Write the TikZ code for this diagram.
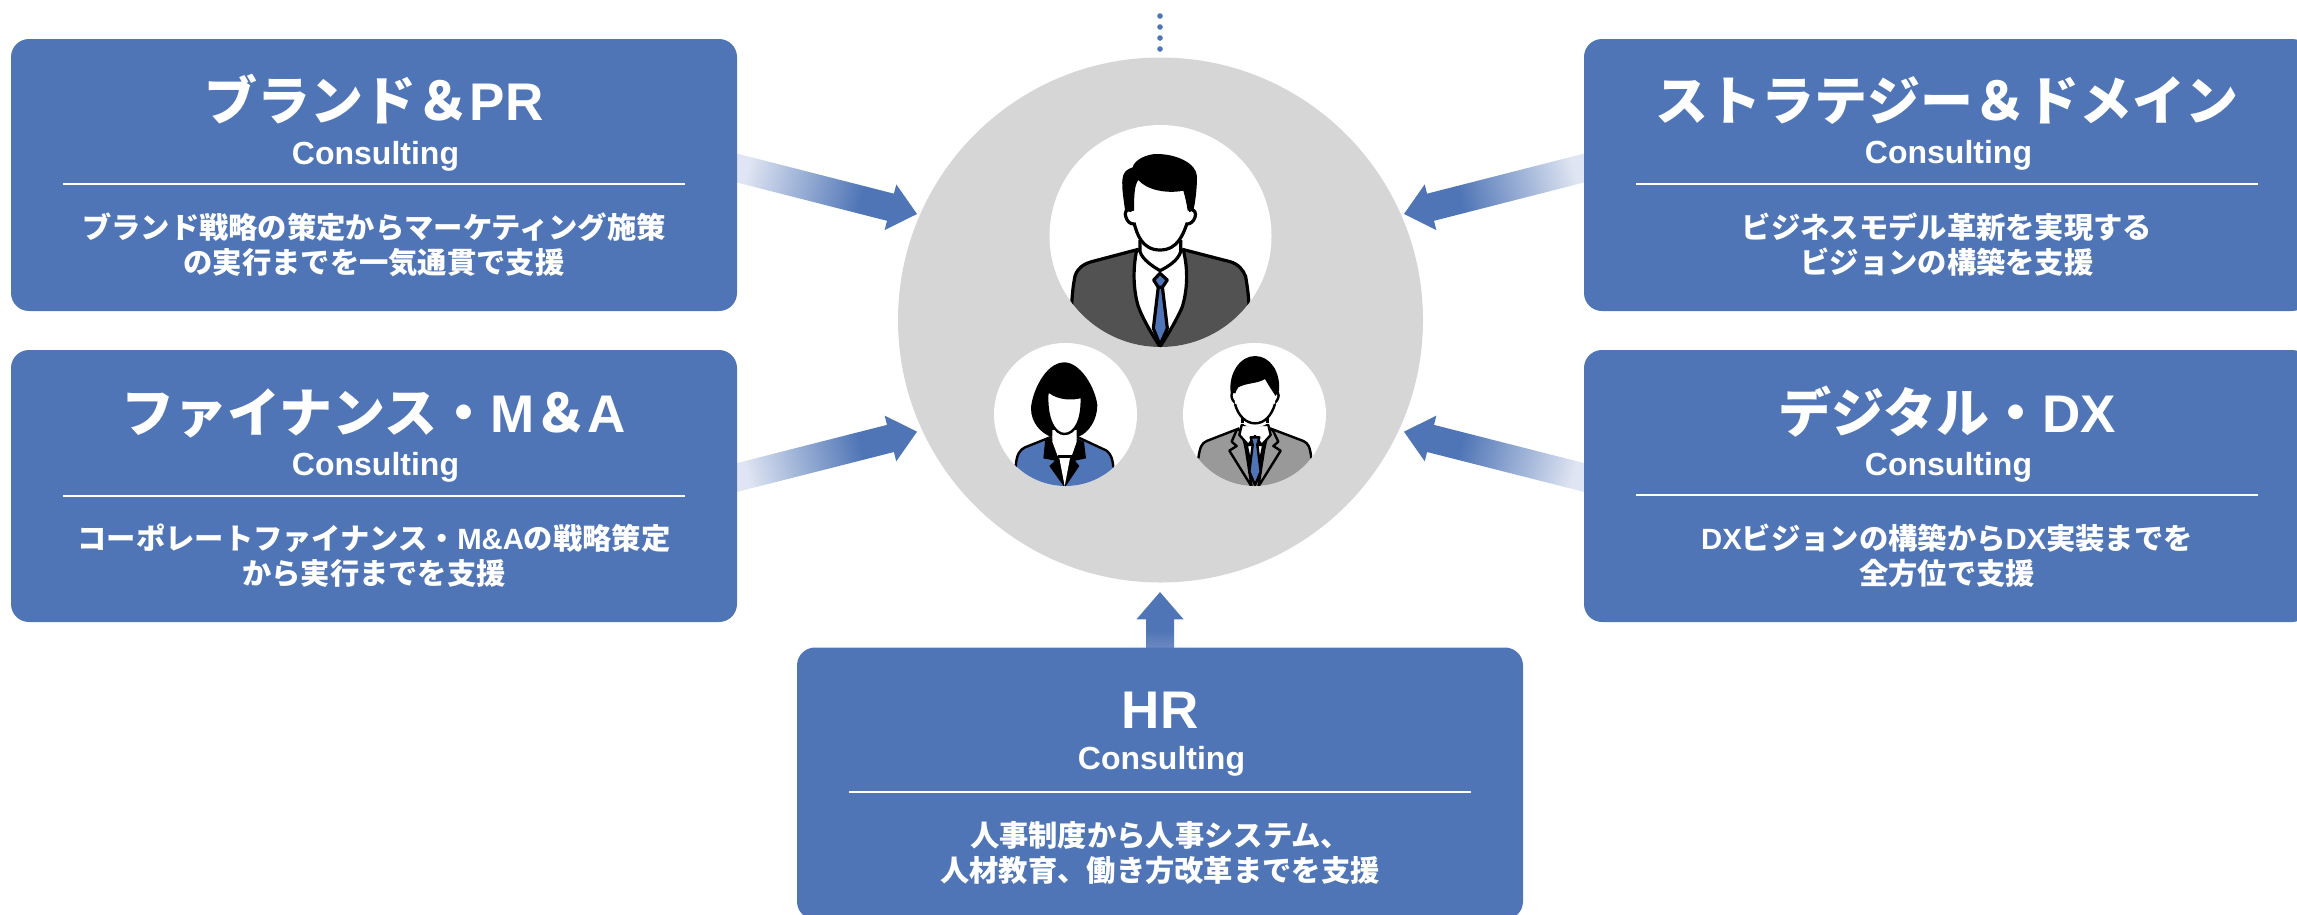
\documentclass[tikz,border=0pt]{standalone}
\usepackage{fontspec}
\usetikzlibrary{calc}
\setmainfont{Liberation Sans}
\newfontfamily\cjk{Noto Sans CJK JP}
\definecolor{boxblue}{HTML}{4F75B6}
\definecolor{pale}{HTML}{DFE5F2}
\definecolor{lowblue}{HTML}{6F8BC3}
\definecolor{hubgrey}{HTML}{D6D6D6}
\definecolor{suitdark}{HTML}{525252}
\definecolor{suitgrey}{HTML}{999999}
\pgfdeclarehorizontalshading{arrowfade}{100bp}{color(0bp)=(pale); color(27bp)=(pale); color(62bp)=(boxblue); color(100bp)=(boxblue)}
\pgfdeclarehorizontalshading{arrowshort}{100bp}{color(0bp)=(lowblue); color(25bp)=(lowblue); color(42bp)=(boxblue); color(100bp)=(boxblue)}
\newcommand{\la}[1]{{\rmfamily\bfseries #1}}
\newcommand{\fs}[1]{\fontsize{#1}{#1}\selectfont}
\tikzset{
  cbox/.style={fill=boxblue,rounded corners=18pt,minimum width=726pt,minimum height=272pt,inner sep=0pt,draw=none},
  ctext/.style={text=white,inner sep=0pt,anchor=base},
  ctitle/.style={ctext,font=\cjk\bfseries\fs{53}},
  csub/.style={ctext,xshift=1.5pt,font=\rmfamily\bfseries\fs{32}},
  cbody/.style={ctext,font=\cjk\bfseries\fs{29.3}},
  rule/.style={draw=white,line width=2pt},
  face/.style={fill=white,draw=black,line join=round},
  dot/.style={circle,fill=boxblue,inner sep=0pt,minimum size=5.6pt},
}
% id, cx, cy, title, title base, sub base, rule y, line1, base1
\newcommand{\consult}[9]{%
  \node[cbox] (#1) at (#2,#3) {};
  \node[ctitle] (#1t) at (#2,#5) {#4};
  \node[csub] (#1s) at (#2,#6) {Consulting};
  \draw[rule] ($(#2,#7)+(-311,0)$) -- ($(#2,#7)+(311,0)$);
  \node[cbody] (#1a) at (#2,#9) {#8};
}
\newcommand{\blockarrow}[4]{% from, to, shading, angle
  \coordinate (hb) at ($(#2)!27.4pt!(#1)$);
  \shade[shading=#3,shading angle=#4]
    ($(#1)!14pt!90:(#2)$) -- ($(hb)!14pt!-90:(#1)$) -- ($(hb)!23.6pt!-90:(#1)$) -- (#2)
    -- ($(hb)!23.6pt!90:(#1)$) -- ($(hb)!14pt!90:(#1)$) -- ($(#1)!14pt!-90:(#2)$) -- cycle;
}
\begin{document}
\begin{tikzpicture}[x=1pt,y=-1pt]
\path[use as bounding box] (0,0) rectangle (2297,914);
\clip (0,0) rectangle (2297,914);

% hub and portrait discs
\node[circle,fill=hubgrey,inner sep=0pt,minimum size=525pt] (hub) at (1160.5,320) {};
\node[circle,fill=white,inner sep=0pt,minimum size=222pt] (p1) at (1160.5,236) {};
\node[circle,fill=white,inner sep=0pt,minimum size=143pt] (p2) at (1065.5,414.5) {};
\node[circle,fill=white,inner sep=0pt,minimum size=143pt] (p3) at (1254.5,414.5) {};
\foreach \i/\yy in {1/16,2/27,3/38,4/49}{\node[dot] (d\i) at (1160,\yy) {};}

% arrows (under the boxes)
\coordinate (s1) at (729,166); \coordinate (e1) at (917,214);
\coordinate (s2) at (729,479.5); \coordinate (e2) at (917,431.7);
\coordinate (s3) at (1592,166); \coordinate (e3) at (1404,214);
\coordinate (s4) at (1592,479.5); \coordinate (e4) at (1404,431.7);
\coordinate (s5) at (1160,650); \coordinate (e5) at (1160,592);
\blockarrow{s1}{e1}{arrowfade}{-14.3}
\blockarrow{s2}{e2}{arrowfade}{14.3}
\blockarrow{s3}{e3}{arrowfade}{194.3}
\blockarrow{s4}{e4}{arrowfade}{165.7}
\blockarrow{s5}{e5}{arrowshort}{90}

% boxes
\consult{b1}{374}{175}{ブランド＆\la{PR}}{120}{164.5}{183.7}{ブランド戦略の策定からマーケティング施策}{238.5}
\node[cbody] (b1b) at (374,273.5) {の実行までを一気通貫で支援};
\consult{b2}{374}{486}{ファイナンス・\la{M}＆\la{A}}{432}{475.5}{495.7}{コーポレートファイナンス・\la{M\&A}の戦略策定}{549.5}
\node[cbody] (b2b) at (374,584.5) {から実行までを支援};
\consult{b3}{1947}{175}{ストラテジー＆ドメイン}{120}{163.5}{184}{ビジネスモデル革新を実現する}{238.5}
\node[cbody] (b3b) at (1947,273.5) {ビジョンの構築を支援};
\consult{b4}{1947}{486}{デジタル・\la{DX}}{432}{475.5}{495}{\la{DX}ビジョンの構築から\la{DX}実装までを}{549.5}
\node[cbody] (b4b) at (1947,584.5) {全方位で支援};
\consult{b5}{1160}{783.5}{\la{HR}}{728}{769.5}{791.7}{人事制度から人事システム、}{846.5}
\node[cbody] (b5b) at (1160,881.5) {人材教育、働き方改革までを支援};

% big man
\begin{scope}
\clip (1160.5,236) circle [radius=111];
\begin{scope}[x=0.33333pt,y=-0.33333pt,shift={(950pt,0pt)},line width=3.2pt]
\fill[suitdark] (365,915) .. controls (368,860) and (372,845) .. (375,828) .. controls (382,805) and (400,792) .. (425,785) -- (565,748) -- (697,748) -- (840,785) .. controls (865,792) and (880,810) .. (887,830) .. controls (892,860) and (895,880) .. (897,915) -- (897,1100) -- (365,1100) -- cycle;
\draw (365,915) .. controls (368,860) and (372,845) .. (375,828) .. controls (382,805) and (400,792) .. (425,785) -- (565,748);
\draw (697,748) -- (840,785) .. controls (865,792) and (880,810) .. (887,830) .. controls (892,860) and (895,880) .. (897,915);
\draw[fill=white,line join=round] (560,750) .. controls (548,810) and (550,870) .. (565,920) .. controls (580,960) and (610,1010) .. (630,1040) .. controls (650,1010) and (680,960) .. (697,920) .. controls (712,870) and (715,810) .. (700,750) -- cycle;
\draw[fill=boxblue,line join=round] (625,860) -- (610,985) -- (630,1035) -- (652,985) -- (637,860) -- cycle;
\draw[fill=boxblue,line join=round] (630,820) -- (652,840) -- (637,862) -- (625,862) -- (611,840) -- cycle;
\draw[fill=white] (570,720) -- (570,755) .. controls (578,780) and (610,800) .. (630,812) .. controls (655,800) and (685,780) .. (692,755) -- (692,720);
% ears, then the face over them
\draw[face] (545,632) .. controls (528,622) and (522,640) .. (528,652) .. controls (532,665) and (540,672) .. (552,672);
\draw[face] (716,632) .. controls (733,622) and (740,640) .. (735,652) .. controls (730,665) and (722,672) .. (710,672);
\fill[white] (552,570) -- (552,670) .. controls (560,700) and (575,750) .. (630,750) .. controls (685,750) and (700,700) .. (712,670) -- (708,570) -- cycle;
\draw (552,668) .. controls (560,700) and (575,750) .. (630,750) .. controls (685,750) and (700,700) .. (712,668);
\fill[black] (525,630) .. controls (520,590) and (512,550) .. (520,525) .. controls (525,510) and (540,505) .. (548,502) .. controls (552,480) and (590,462) .. (620,462) .. controls (680,462) and (740,490) .. (741,530) .. controls (741,570) and (735,610) .. (730,632) -- (713,632) .. controls (710,610) and (705,590) .. (700,572) .. controls (650,582) and (590,570) .. (565,540) .. controls (553,555) and (552,590) .. (552,632) -- (540,635) -- cycle;
\end{scope}
\end{scope}

% woman
\begin{scope}
\clip (1065.5,414.5) circle [radius=71.5];
\begin{scope}[x=0.33333pt,y=-0.33333pt,shift={(960pt,-330pt)},line width=2.4pt]
\fill[black] (313,97) .. controls (255,97) and (215,190) .. (213,235) .. controls (213,280) and (245,310) .. (272,320) -- (355,320) .. controls (385,310) and (412,270) .. (412,225) .. controls (405,170) and (360,97) .. (313,97) -- cycle;
\fill[boxblue] (167,410) .. controls (170,370) and (180,360) .. (195,352) -- (275,320) -- (350,320) -- (440,362) .. controls (455,375) and (458,390) .. (460,412) -- (460,500) -- (167,500) -- cycle;
\draw (167,410) .. controls (170,370) and (180,360) .. (195,352) -- (275,320);
\draw (350,320) -- (440,362) .. controls (455,375) and (458,390) .. (460,412);
\fill[black] (256,325) -- (250,385) -- (285,392) -- (268,408) -- (312,470) -- (316,470) -- (358,408) -- (345,392) -- (378,385) -- (372,335) -- (350,325) -- cycle;
\fill[white] (277,300) -- (277,335) -- (293,378) -- (335,378) -- (350,335) -- (350,300) -- cycle;
\draw[line join=round] (293,378) -- (335,378);
\fill[white] (298,384) -- (330,384) -- (314,468) -- cycle;
\draw[fill=white] (262,190) .. controls (258,270) and (285,312) .. (313,312) .. controls (345,312) and (368,270) .. (365,200) .. controls (340,208) and (295,208) .. (268,185) -- cycle;
\end{scope}
\end{scope}

% second man
\begin{scope}
\clip (1254.5,414.5) circle [radius=71.5];
\begin{scope}[x=0.33333pt,y=-0.33333pt,shift={(960pt,-330pt)},line width=2.4pt]
\fill[suitgrey] (715,385) .. controls (720,350) and (725,340) .. (740,333) -- (838,295) -- (930,295) -- (1030,333) .. controls (1045,340) and (1050,350) .. (1054,385) -- (1054,500) -- (715,500) -- cycle;
\draw (715,385) .. controls (720,350) and (725,340) .. (740,333) -- (838,295);
\draw (930,295) -- (1030,333) .. controls (1045,340) and (1050,350) .. (1054,385);
\draw[fill=suitgrey,line join=round] (830,300) -- (815,335) -- (830,348) -- (808,362) -- (875,470) -- (858,360) -- (845,300) -- cycle;
\draw[fill=suitgrey,line join=round] (938,300) -- (955,335) -- (940,348) -- (962,362) -- (895,470) -- (912,360) -- (925,300) -- cycle;
\draw[fill=white,line join=round] (860,345) -- (885,465) -- (910,345) -- cycle;
\draw[fill=white,line join=round] (845,285) -- (838,315) -- (865,345) -- (885,318) -- (905,345) -- (932,315) -- (925,285) -- cycle;
\draw[fill=boxblue,line join=round] (872,322) -- (898,322) -- (892,345) -- (902,425) -- (885,465) -- (868,425) -- (878,345) -- cycle;
\fill[white] (848,255) -- (848,280) .. controls (860,295) and (905,295) .. (922,280) -- (922,255) -- cycle;
\draw (848,250) -- (848,278); \draw (922,250) -- (922,278);
\draw[face] (826,185) .. controls (808,180) and (812,210) .. (828,222);
\draw[face] (944,185) .. controls (962,180) and (958,210) .. (942,222);
\fill[white] (824,150) -- (825,225) .. controls (835,260) and (860,280) .. (885,280) .. controls (915,280) and (935,255) .. (945,225) -- (946,150) -- cycle;
\draw (825,222) .. controls (835,260) and (860,280) .. (885,280) .. controls (915,280) and (935,255) .. (945,222);
\fill[black] (812,188) .. controls (805,130) and (840,78) .. (885,78) .. controls (930,78) and (962,125) .. (957,182) -- (947,198) .. controls (938,185) and (925,165) .. (915,147) .. controls (890,162) and (860,158) .. (835,172) .. controls (830,178) and (828,185) .. (826,190) -- cycle;
\end{scope}
\end{scope}
\end{tikzpicture}
\end{document}
